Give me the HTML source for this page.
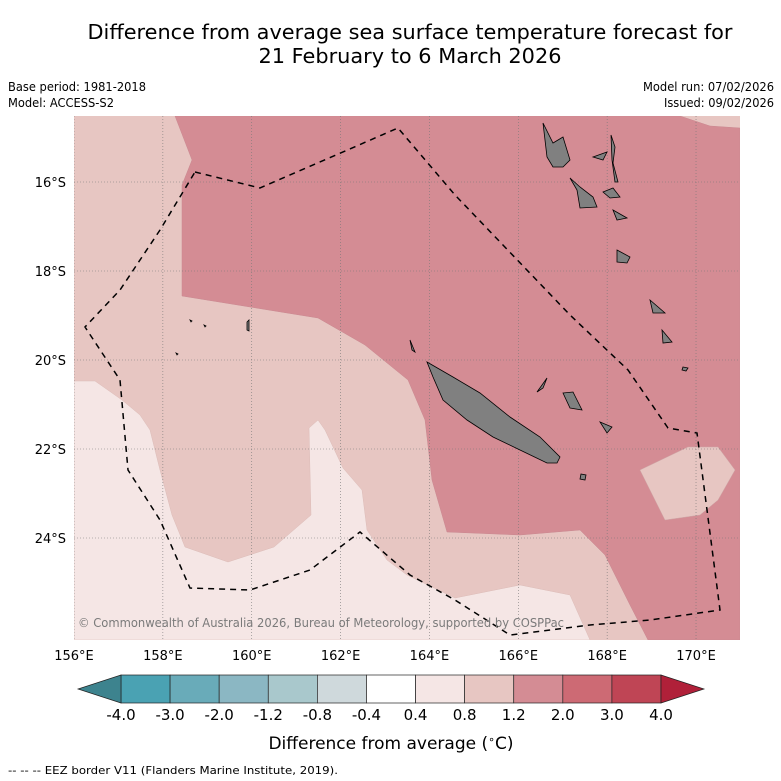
<!DOCTYPE html>
<html><head><meta charset="utf-8"><style>
html,body{margin:0;padding:0;background:#fff;}
svg{display:block;font-family:"DejaVu Sans","Liberation Sans",sans-serif;}
</style></head><body>
<svg id="chart" width="781" height="781" viewBox="0 0 781 781">
<text x="410" y="39" font-size="20" text-anchor="middle" textLength="645" lengthAdjust="spacingAndGlyphs">Difference from average sea surface temperature forecast for</text>
<text x="410" y="63" font-size="20" text-anchor="middle" textLength="303" lengthAdjust="spacingAndGlyphs">21 February to 6 March 2026</text>
<text x="8" y="91" font-size="12" textLength="138" lengthAdjust="spacingAndGlyphs">Base period: 1981-2018</text>
<text x="8" y="107" font-size="12" textLength="106" lengthAdjust="spacingAndGlyphs">Model: ACCESS-S2</text>
<text x="774" y="91" font-size="12" text-anchor="end" textLength="131" lengthAdjust="spacingAndGlyphs">Model run: 07/02/2026</text>
<text x="774" y="107" font-size="12" text-anchor="end" textLength="110" lengthAdjust="spacingAndGlyphs">Issued: 09/02/2026</text>
<defs><clipPath id="mapclip"><rect x="74" y="116" width="666" height="524"/></clipPath></defs>
<g id="map" clip-path="url(#mapclip)"></g>
<g id="axes"></g>
<g id="cbar"></g>
<text x="391" y="749" font-size="17" text-anchor="middle">Difference from average (<tspan font-size="11" dy="-6">∘</tspan><tspan dy="6">C)</tspan></text>
<text x="8" y="774" font-size="11" textLength="330" lengthAdjust="spacingAndGlyphs">--  --  -- EEZ border V11 (Flanders Marine Institute, 2019).</text>
</svg>
<script>
const NS="http://www.w3.org/2000/svg";
const lonTicks=[156,158,160,162,164,166,168,170];
const latTicks=[16,18,20,22,24];
const cbBounds=["-4.0","-3.0","-2.0","-1.2","-0.8","-0.4","0.4","0.8","1.2","2.0","3.0","4.0"];
const cbColors=["#4aa2b3","#69abb9","#8bb7c3","#a9c8cc","#cfd9dc","#ffffff","#f5e6e5","#e7c6c2","#d48c94","#cd6a74","#bf4555"];
const cbExtend=["#3d838e","#b02039"];
// map geometry (screen coordinates of the map projection)
const darkRegion=[[175,116],[192,160],[182,185],[182,296],[318,318],[365,345],[408,380],[425,420],[432,480],[447,532],[520,535],[580,530],[605,555],[630,605],[648,640],[740,640],[740,128],[710,126],[680,116]];
const lightRegion=[[74,381],[95,381],[122,400],[140,415],[150,430],[160,470],[172,515],[185,547],[228,562],[274,547],[311,515],[309,428],[318,420],[325,430],[343,468],[362,490],[367,530],[387,560],[407,575],[430,586],[455,598],[520,585],[570,595],[590,640],[74,640]];
const rightPatch=[[640,470],[688,447],[718,447],[735,470],[718,500],[700,515],[665,520]];
const eez=[[195,172],[260,188],[398,128],[455,195],[525,268],[570,315],[628,370],[668,428],[697,433],[720,610],[650,620],[590,625],[510,635],[455,600],[410,575],[360,532],[310,570],[250,590],[190,588],[160,520],[128,470],[120,380],[85,327],[120,290],[160,230],[195,172]];
const islands=[
[[427,362],[453,377],[480,393],[510,417],[540,437],[560,457],[557,463],[547,463],[520,450],[493,437],[467,420],[443,400],[433,377]],
[[543,123],[553,143],[563,137],[570,160],[563,167],[553,167],[547,157]],
[[570,178],[580,187],[593,197],[597,207],[580,208],[577,190]],
[[593,157],[607,152],[603,160]],
[[611,135],[615,147],[613,163],[618,182],[615,182],[612,160]],
[[603,192],[613,188],[620,197],[610,198]],
[[613,210],[627,218],[617,220]],
[[617,250],[630,257],[627,263],[617,262]],
[[650,300],[665,313],[653,313]],
[[662,330],[672,342],[663,343]],
[[683,367],[688,368],[686,371],[682,370]],
[[537,392],[547,378],[543,388]],
[[563,393],[573,392],[582,410],[570,408]],
[[600,422],[612,427],[607,433]],
[[410,340],[415,352],[412,350]],
[[581,474],[586,475],[585,480],[580,479]],
[[247,322],[249,320],[249,331],[247,330]],
[[190,320],[192,321],[191,322]],
[[204,325],[206,326],[205,327]],
[[176,353],[178,354],[177,355]]];
function pts(a){return a.map(p=>p[0]+","+p[1]).join(" ");}
function X(lon){return 74+(lon-156)*44.43;}
function Y(lat){return 182+(lat-16)*44.5;}
function mk(tag,attrs,parent){const e=document.createElementNS(NS,tag);for(const k in attrs)e.setAttribute(k,attrs[k]);parent.appendChild(e);return e;}
const map=document.getElementById("map");
let e;
e=mk("rect",{x:74,y:116,width:666,height:524,fill:"#e7c6c2"},map);


e=mk("polygon",{points:pts(darkRegion),fill:"#d48c94",stroke:"#c98890","stroke-width":0.5},map);


e=mk("polygon",{points:pts(lightRegion),fill:"#f5e6e5",stroke:"#dcbcb8","stroke-width":0.5},map);


e=mk("polygon",{points:pts(rightPatch),fill:"#e7c6c2",stroke:"#cfa8a8","stroke-width":0.5},map);


lonTicks.forEach(l=>{const g=mk("line",{x1:X(l),x2:X(l),y1:116,y2:640,stroke:"#777","stroke-width":0.6,"stroke-dasharray":"1,2"},map);

});
latTicks.forEach(l=>{const g=mk("line",{x1:74,x2:740,y1:Y(l),y2:Y(l),stroke:"#777","stroke-width":0.6,"stroke-dasharray":"1,2"},map);

});
islands.forEach(p=>{const g=mk("polygon",{points:pts(p),fill:"#808080",stroke:"#000","stroke-width":0.8},map);

});
e=mk("polyline",{points:pts(eez),fill:"none",stroke:"#000","stroke-width":1.5,"stroke-dasharray":"6,5"},map);


e=mk("text",{x:78,y:627,"font-size":12,fill:"#7a7a7a",textLength:486,lengthAdjust:"spacingAndGlyphs"},map);
e.textContent="© Commonwealth of Australia 2026, Bureau of Meteorology, supported by COSPPac";


const axes=document.getElementById("axes");
lonTicks.forEach(l=>{const t=mk("text",{x:X(l),y:660,"font-size":13,"text-anchor":"middle"},axes);t.textContent=l+"°E";

});
latTicks.forEach(l=>{const t=mk("text",{x:66,y:Y(l)+5,"font-size":13,"text-anchor":"end"},axes);t.textContent=l+"°S";

});
const cb=document.getElementById("cbar");
const cx0=121,cx1=661,cy0=675,cy1=703,sw=(cx1-cx0)/cbColors.length;
cbColors.forEach((c,i)=>{const r=mk("rect",{x:cx0+i*sw,y:cy0,width:sw,height:cy1-cy0,fill:c,stroke:"#222","stroke-width":0.7},cb);

});
e=mk("polygon",{points:`${cx0},${cy0} ${cx0},${cy1} 78,${(cy0+cy1)/2}`,fill:cbExtend[0],stroke:"#222","stroke-width":0.7},cb);


e=mk("polygon",{points:`${cx1},${cy0} ${cx1},${cy1} 704,${(cy0+cy1)/2}`,fill:cbExtend[1],stroke:"#222","stroke-width":0.7},cb);


cbBounds.forEach((b,i)=>{const t=mk("text",{x:cx0+i*sw,y:720,"font-size":15,"text-anchor":"middle"},cb);t.textContent=b;

});
</script>
</body></html>
